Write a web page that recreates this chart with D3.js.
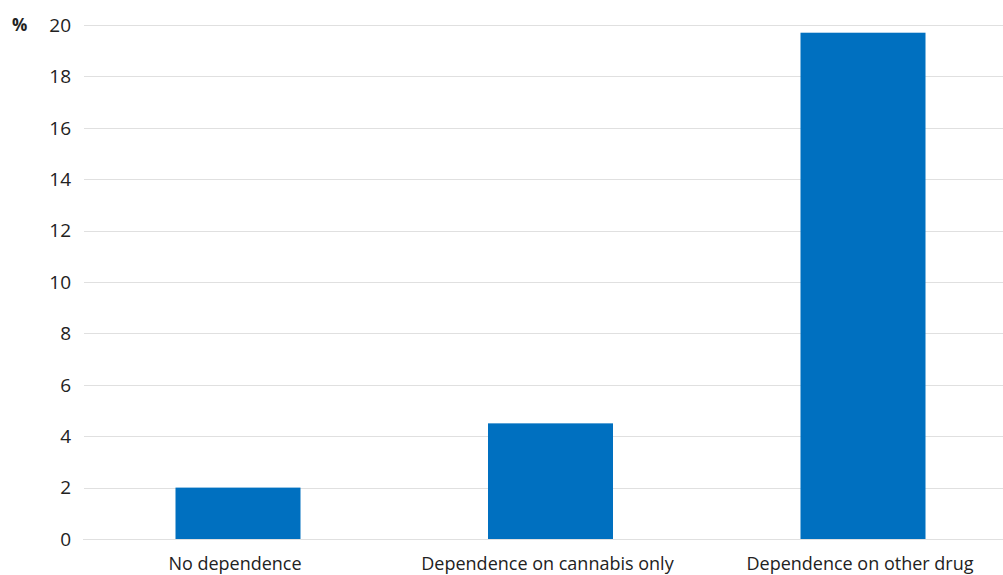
<!DOCTYPE html>
<html>
<head>
<meta charset="utf-8">
<script src="https://cdn.jsdelivr.net/npm/d3@7"></script>
<style>
  html, body { margin: 0; padding: 0; background: #fff; }
  svg { display: block; }
  text { font-family: "Open Sans", "Noto Sans", sans-serif; fill: #222; }
</style>
</head>
<body>
<svg id="chart" width="1003" height="575"></svg>
<script>
const categories = ["No dependence", "Dependence on cannabis only", "Dependence on other drug"];
const values = [2.0, 4.5, 19.7];
const yTicks = [0, 2, 4, 6, 8, 10, 12, 14, 16, 18, 20];
const yUnit = "%";

const W = 1003, H = 575;
const svg = d3.select("#chart");

const y = d3.scaleLinear().domain([0, 20]).range([539, 25]);
const x = d3.scaleBand().domain(categories).range([81.75, 1019.25])
  .paddingInner(0.6).paddingOuter(0.3);

// gridlines
svg.append("g").selectAll("line").data(yTicks).join("line")
  .attr("x1", d => d === 0 ? 83 : 84)
  .attr("x2", W)
  .attr("y1", d => Math.round(y(d)) + 0.5)
  .attr("y2", d => Math.round(y(d)) + 0.5)
  .attr("stroke", "#e0e0e0")
  .attr("stroke-width", 1.2);

// y tick labels
svg.append("g").selectAll("text").data(yTicks).join("text")
  .attr("x", 71)
  .attr("y", d => y(d))
  .attr("dy", "0.36em")
  .attr("text-anchor", "end")
  .attr("font-size", 19)
  .text(d => d);

// unit
svg.append("text")
  .attr("x", 12)
  .attr("y", y(20))
  .attr("dy", "0.36em")
  .attr("font-size", 17)
  .attr("font-weight", "bold")
  .text(yUnit);

// bars
svg.append("g").selectAll("rect").data(values).join("rect")
  .attr("x", (d, i) => x(categories[i]))
  .attr("width", x.bandwidth())
  .attr("y", d => y(d))
  .attr("height", d => y(0) - y(d))
  .attr("fill", "#0070c0");

// x labels
svg.append("g").selectAll("text").data(categories).join("text")
  .attr("x", d => x(d) + x.bandwidth() / 2 - 3)
  .attr("y", 570)
  .attr("text-anchor", "middle")
  .attr("font-size", 18)
  .text(d => d);
</script>
</body>
</html>
